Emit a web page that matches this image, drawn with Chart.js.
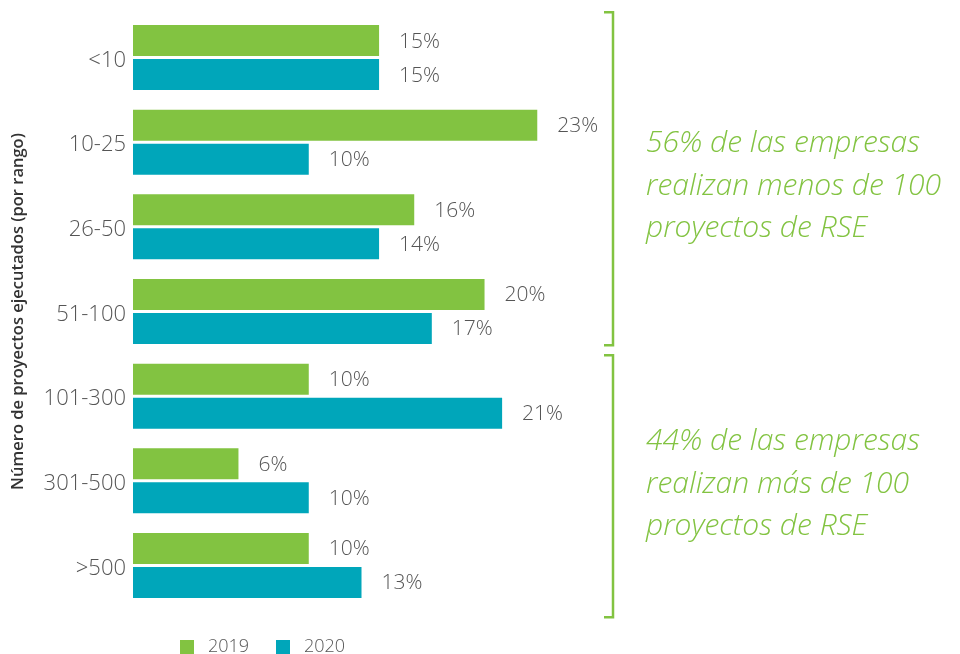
<!DOCTYPE html>
<html>
<head>
<meta charset="utf-8">
<script src="https://cdn.jsdelivr.net/npm/chart.js@4/dist/chart.umd.min.js"></script>
<style>
html,body{margin:0;padding:0;background:#fff;}
#wrap{position:relative;width:960px;height:654px;}
</style>
</head>
<body>
<div id="wrap"><canvas id="c" width="960" height="654"></canvas></div>
<script>
const categories = ['<10', '10-25', '26-50', '51-100', '101-300', '301-500', '>500'];
const seriesNames = ['2019', '2020'];
const values2019 = [14, 23, 16, 20, 10, 6, 10];
const values2020 = [14, 10, 14, 17, 21, 10, 13];
const labels2019 = ['15%', '23%', '16%', '20%', '10%', '6%', '10%'];
const labels2020 = ['15%', '10%', '14%', '17%', '21%', '10%', '13%'];
const axisTitle = 'Número de proyectos ejecutados (por rango)';
const groupNotes = [
  ['56% de las empresas', 'realizan menos de 100', 'proyectos de RSE'],
  ['44% de las empresas', 'realizan más de 100', 'proyectos de RSE']
];
const groupRanges = [[0, 3], [4, 6]];

const GREEN = '#82c341';
const TEAL = '#00a6ba';
const TEXT = '#555555';
const FONT = "'Open Sans', 'Noto Sans', sans-serif";

const extras = {
  id: 'extras',
  afterDatasetsDraw(chart) {
    const ctx = chart.ctx;
    const allLabels = [labels2019, labels2020];
    ctx.save();
    ctx.font = '300 21px ' + FONT;
    ctx.fillStyle = TEXT;
    ctx.textBaseline = 'middle';
    ctx.textAlign = 'left';
    chart.data.datasets.forEach((ds, di) => {
      const meta = chart.getDatasetMeta(di);
      meta.data.forEach((bar, i) => {
        ctx.fillText(allLabels[di][i], bar.x + 20, bar.y + 1);
      });
    });
    ctx.restore();
  },
  afterDraw(chart) {
    const ctx = chart.ctx;
    const y = chart.scales.y;
    const band = y.getPixelForValue(1) - y.getPixelForValue(0);
    ctx.save();
    ctx.strokeStyle = GREEN;
    ctx.lineWidth = 2.5;
    const bx = 613;
    groupRanges.forEach((r, gi) => {
      const top = y.getPixelForValue(r[0]) - band / 2 + (gi === 0 ? -3 : 1.5);
      const bot = y.getPixelForValue(r[1]) + band / 2 + (gi === 0 ? -8.5 : 9.5);
      ctx.beginPath();
      ctx.moveTo(bx - 9, top);
      ctx.lineTo(bx, top);
      ctx.lineTo(bx, bot);
      ctx.lineTo(bx - 9, bot);
      ctx.stroke();
      ctx.fillStyle = GREEN;
      ctx.font = 'italic 300 30px ' + FONT;
      ctx.textAlign = 'left';
      ctx.textBaseline = 'middle';
      const lines = groupNotes[gi];
      const startY = gi === 0 ? 143.5 : 441.5;
      lines.forEach((ln, li) => {
        ctx.fillText(ln, 646, startY + li * 42.5);
      });
    });
    ctx.font = '300 18px ' + FONT;
    ctx.textBaseline = 'top';
    const lx = [180, 276];
    chart.data.datasets.forEach((ds, di) => {
      ctx.fillStyle = ds.backgroundColor;
      ctx.fillRect(lx[di], 640, 14, 14);
      ctx.fillStyle = TEXT;
      ctx.fillText(ds.label, lx[di] + 28, 638);
    });
    ctx.restore();
  }
};

new Chart(document.getElementById('c'), {
  type: 'bar',
  data: {
    labels: categories,
    datasets: [
      { label: seriesNames[0], data: values2019, backgroundColor: GREEN, categoryPercentage: 0.803, barPercentage: 0.912 },
      { label: seriesNames[1], data: values2020, backgroundColor: TEAL, categoryPercentage: 0.803, barPercentage: 0.912 }
    ]
  },
  options: {
    indexAxis: 'y',
    responsive: false,
    animation: false,
    devicePixelRatio: 1,
    layout: { padding: { top: 15.2, bottom: 46.2, left: 0, right: 370 } },
    plugins: { legend: { display: false }, tooltip: { enabled: false } },
    scales: {
      x: { display: false, min: 0, max: 26 },
      y: {
        grid: { display: false, drawTicks: false },
        border: { display: false },
        ticks: { color: TEXT, font: { family: FONT, size: 22, weight: '300' }, padding: 7, labelOffset: 3 },
        title: { display: true, text: axisTitle, color: '#333', font: { family: FONT, size: 16.5, weight: '600' }, padding: { top: 8, bottom: 0 } },
        afterFit(scale) { scale.width = 133; scale.paddingTop = 0; scale.paddingBottom = 0; }
      }
    }
  },
  plugins: [extras]
});
</script>
</body>
</html>
